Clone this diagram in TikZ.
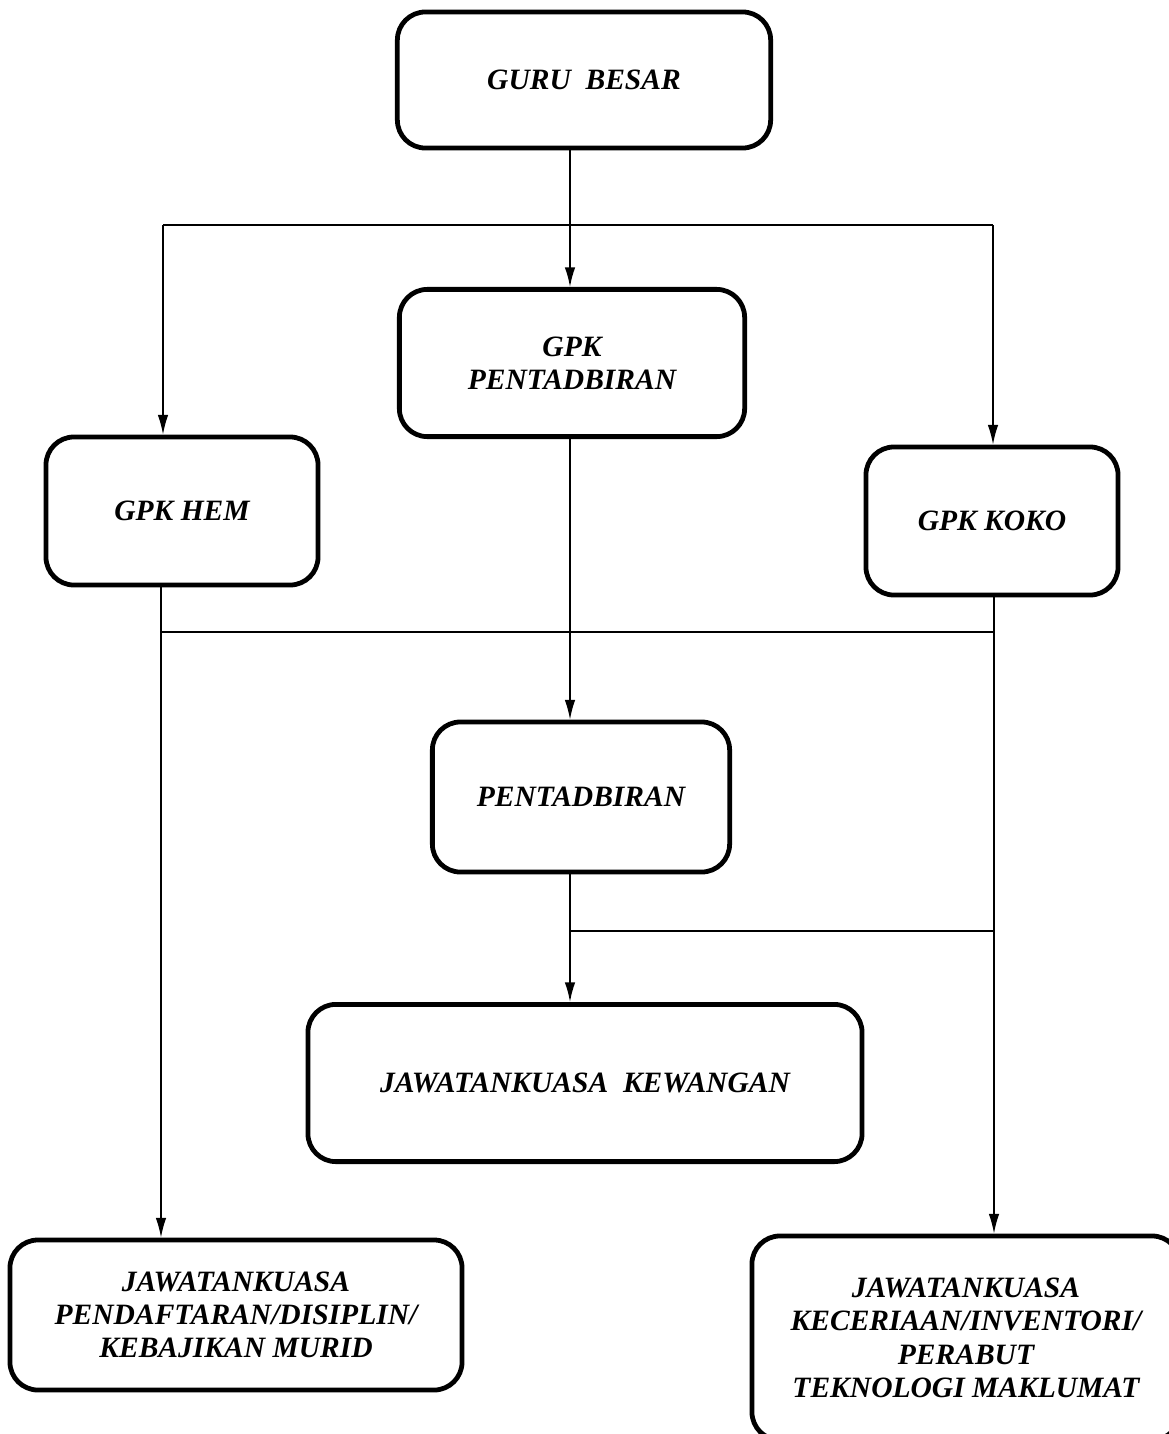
\documentclass[tikz,border=0pt]{standalone}
\usepackage{fontspec}
\setmainfont{Liberation Serif}
\usetikzlibrary{arrows.meta, positioning}

\begin{document}
\begin{tikzpicture}[x=0.025cm, y=-0.025cm,
  box/.style={rectangle, draw, rounded corners=0.7cm, line width=3.4pt, align=center,
    font=\fontsize{21}{23.7}\selectfont\bfseries\itshape},
  link/.style={line width=1.1pt},
  arrow/.style={link, -{Latex[length=14pt, width=7.5pt]}}]
\useasboundingbox (0,0) rectangle (1169,1434);

% boxes of the chart
\node[box, minimum width=9.33cm, minimum height=3.4cm] (guru) at (584,80) {GURU\ \ BESAR};
\node[box, minimum width=8.63cm, minimum height=3.68cm] (gpkadmin) at (572,363) {GPK\\PENTADBIRAN};
\node[box, minimum width=6.8cm, minimum height=3.7cm] (gpkhem) at (182,511) {GPK HEM};
\node[box, minimum width=6.3cm, minimum height=3.7cm] (gpkkoko) at (992,521) {GPK KOKO};
\node[box, minimum width=7.43cm, minimum height=3.75cm] (admin) at (581,797) {PENTADBIRAN};
\node[box, minimum width=13.85cm, minimum height=3.93cm] (kewangan) at (585,1083) {JAWATANKUASA\ \ KEWANGAN};
\node[box, minimum width=11.3cm, minimum height=3.75cm] (jkmurid) at (236,1315) {JAWATANKUASA\\PENDAFTARAN/DISIPLIN/\\KEBAJIKAN MURID};
\node[box, minimum width=10.7cm, minimum height=5.1cm] (jkinventori) at (966,1338) {JAWATANKUASA\\KECERIAAN/INVENTORI/\\PERABUT\\TEKNOLOGI MAKLUMAT};

% bus lines
\coordinate (topL) at (163,225);
\coordinate (topR) at (993,225);
\coordinate (midL) at (161,632);
\coordinate (midR) at (994,632);
\coordinate (lowL) at (570,931);
\coordinate (lowR) at (994,931);

\draw[link] (topL) -- (topR);
\draw[link] (midL) -- (midR);
\draw[link] (lowL) -- (lowR);

% connectors
\draw[arrow] (guru.south -| lowL) -- (gpkadmin.north -| lowL);
\draw[arrow] (topL) -- (topL |- gpkhem.north);
\draw[arrow] (topR) -- (topR |- gpkkoko.north);
\draw[arrow] (gpkadmin.south -| lowL) -- (admin.north -| lowL);
\draw[arrow] (admin.south -| lowL) -- (kewangan.north -| lowL);
\draw[arrow] (gpkhem.south -| midL) -- (midL |- jkmurid.north);
\draw[arrow] (gpkkoko.south -| midR) -- (midR |- jkinventori.north);
\end{tikzpicture}
\end{document}
